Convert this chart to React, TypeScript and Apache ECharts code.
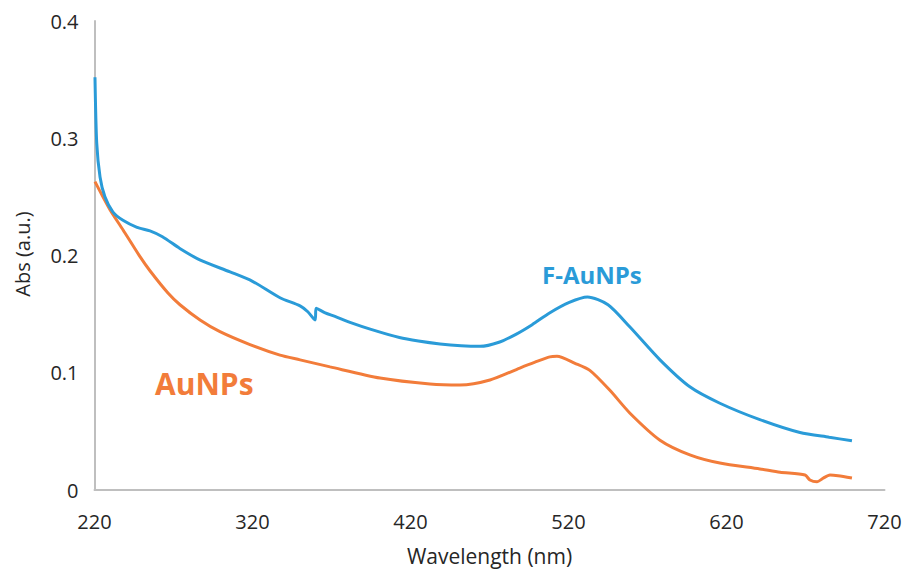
import React, { useEffect, useRef } from "react";
import * as echarts from "echarts";

const xTicks = [220, 320, 420, 520, 620, 720];
const yTicks = [0, 0.1, 0.2, 0.3, 0.4];
const xTitle = "Wavelength (nm)";
const yTitle = "Abs (a.u.)";

// F-AuNPs (blue)
const fauWavelength = [220.3, 221.4, 223.5, 226.6, 231.7, 238, 246.9, 255.1, 263, 274, 287, 305.8, 320, 337.4, 350.1, 355, 359.6, 360.3, 366, 372.2, 381.7, 395, 413, 425, 438.7, 452, 464, 476, 487, 497, 508, 520.5, 532, 545, 558.9, 577.9, 596.8, 615.8, 641.1, 666.5, 685, 699.4];
const fauAbs = [0.352, 0.296, 0.267, 0.25, 0.237, 0.23, 0.224, 0.221, 0.216, 0.206, 0.196, 0.186, 0.178, 0.164, 0.157, 0.152, 0.145, 0.155, 0.151, 0.148, 0.143, 0.137, 0.13, 0.127, 0.1245, 0.123, 0.1225, 0.126, 0.133, 0.141, 0.151, 0.16, 0.1646, 0.158, 0.139, 0.111, 0.088, 0.074, 0.06, 0.049, 0.045, 0.042];

// AuNPs (orange)
const auWavelength = [220.3, 229.8, 238, 248.8, 255.1, 266.5, 274.1, 286.8, 299.4, 318.4, 337.4, 350.1, 369.1, 400.7, 432.3, 451.3, 470.3, 489.2, 498.8, 508.2, 512.7, 524.1, 533.5, 546.2, 558.9, 577.9, 596.8, 615.8, 641.1, 653.9, 669.7, 672.8, 677.3, 681.1, 685.5, 690.6, 699.4];
const auAbs = [0.263, 0.239, 0.222, 0.199, 0.187, 0.168, 0.158, 0.145, 0.135, 0.124, 0.115, 0.111, 0.105, 0.0955, 0.0904, 0.0895, 0.0938, 0.104, 0.109, 0.1135, 0.114, 0.108, 0.102, 0.085, 0.0655, 0.0425, 0.03, 0.023, 0.018, 0.0151, 0.0128, 0.0085, 0.007, 0.01, 0.0128, 0.0122, 0.0102];

const BLUE = "#2a9bd8";
const ORANGE = "#f27c3a";
const TEXT = "#262626";
const AXIS = "#bfbfbf";
const FONT = "'Open Sans', sans-serif";

export default function App() {
  const ref = useRef<HTMLDivElement>(null);
  useEffect(() => {
    if (!ref.current) return;
    document.body.style.margin = "0";
    document.body.style.overflow = "hidden";
    document.documentElement.style.overflow = "hidden";
    const chart = echarts.init(ref.current, undefined, { renderer: "svg", width: 908, height: 569 });
    chart.setOption({
      animation: false,
      backgroundColor: "#ffffff",
      textStyle: { fontFamily: FONT },
      grid: { left: 94.5, right: 23.5, top: 21, bottom: 79, containLabel: false },
      xAxis: {
        type: "value",
        min: xTicks[0],
        max: xTicks[xTicks.length - 1],
        interval: 100,
        axisLine: { show: true, lineStyle: { color: AXIS, width: 2 } },
        axisTick: { show: false },
        splitLine: { show: false },
        axisLabel: { fontSize: 20, color: TEXT, margin: 21, fontFamily: FONT },
      },
      yAxis: {
        type: "value",
        min: yTicks[0],
        max: yTicks[yTicks.length - 1],
        interval: 0.1,
        axisLine: { show: true, lineStyle: { color: AXIS, width: 2 } },
        axisTick: { show: false },
        splitLine: { show: false },
        axisLabel: {
          fontSize: 20,
          color: TEXT,
          margin: 16,
          fontFamily: FONT,
          formatter: (v: number) => String(Math.round(v * 10) / 10),
        },
      },
      series: [
        {
          name: "AuNPs",
          type: "line",
          showSymbol: false,
          smooth: 0.25,
          data: auWavelength.map((x, i) => [x, auAbs[i]]),
          lineStyle: { color: ORANGE, width: 3 },
          itemStyle: { color: ORANGE },
        },
        {
          name: "F-AuNPs",
          type: "line",
          showSymbol: false,
          smooth: 0.25,
          data: fauWavelength.map((x, i) => [x, fauAbs[i]]),
          lineStyle: { color: BLUE, width: 3 },
          itemStyle: { color: BLUE },
        },
      ],
      graphic: [
        {
          type: "text",
          x: 489.5,
          y: 556,
          style: {
            text: xTitle,
            fill: TEXT,
            font: `21px ${FONT}`,
            align: "center",
            verticalAlign: "middle",
          },
        },
        {
          type: "text",
          x: 22,
          y: 254,
          rotation: Math.PI / 2,
          style: {
            text: yTitle,
            fill: TEXT,
            font: `20px ${FONT}`,
            align: "center",
            verticalAlign: "middle",
          },
        },
        {
          type: "text",
          x: 155,
          y: 383,
          style: {
            text: "AuNPs",
            fill: ORANGE,
            font: `bold 30px ${FONT}`,
            align: "left",
            verticalAlign: "middle",
          },
        },
        {
          type: "text",
          x: 542,
          y: 274,
          style: {
            text: "F-AuNPs",
            fill: BLUE,
            font: `bold 24px ${FONT}`,
            align: "left",
            verticalAlign: "middle",
          },
        },
      ],
    });
    return () => chart.dispose();
  }, []);
  return (
    <div
      ref={ref}
      style={{ position: "absolute", left: 0, top: 0, width: 908, height: 569 }}
    />
  );
}
